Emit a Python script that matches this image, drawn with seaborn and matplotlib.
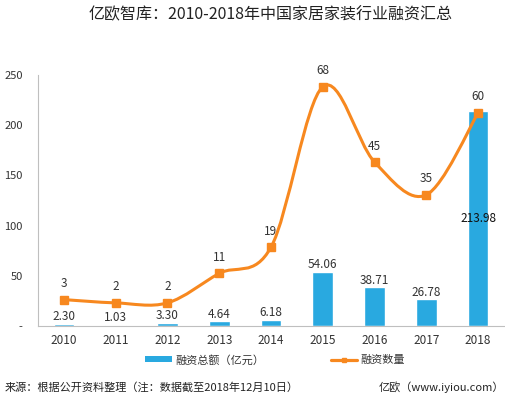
import numpy as np
import pandas as pd
import matplotlib
matplotlib.use("Agg")
import matplotlib.pyplot as plt
from matplotlib.path import Path
from matplotlib.patches import PathPatch, Patch
from matplotlib.lines import Line2D
import seaborn as sns

years = ["2010", "2011", "2012", "2013", "2014", "2015", "2016", "2017", "2018"]
amounts = [2.30, 1.03, 3.30, 4.64, 6.18, 54.06, 38.71, 26.78, 213.98]
amount_labels = ["2.30", "1.03", "3.30", "4.64", "6.18", "54.06", "38.71", "26.78", "213.98"]
counts = [3, 2, 2, 11, 19, 68, 45, 35, 60]
ytick_vals = [0, 50, 100, 150, 200, 250]
ytick_labels = ["-", "50", "100", "150", "200", "250"]

title = "亿欧智库：2010-2018年中国家居家装行业融资汇总"
bar_name = "融资总额（亿元）"
line_name = "融资数量"
source = "来源：根据公开资料整理（注：数据截至2018年12月10日）"
credit = "亿欧（www.iyiou.com）"

BLUE = "#29a9e0"
ORANGE = "#f7881f"
TXT = "#333333"

sns.set_theme(style="white")
plt.rcParams["font.family"] = ["Noto Sans CJK SC", "DejaVu Sans"]
plt.rcParams["axes.unicode_minus"] = False

fig = plt.figure(figsize=(5.06, 3.96), dpi=100)
ax = fig.add_axes([38 / 506, 1 - 326 / 396, (504 - 38) / 506, (326 - 75) / 396])

df = pd.DataFrame({"year": years, "amount": amounts})
sns.barplot(data=df, x="year", y="amount", color=BLUE, saturation=1, width=0.4, ax=ax)
ax.set_xlim(-0.5, len(years) - 0.5)
ax.set_ylim(0, 250)
ax.set_xlabel("")
ax.set_ylabel("")
ax.set_yticks(ytick_vals)
ax.set_yticklabels(ytick_labels)
ax.tick_params(axis="both", length=0, labelsize=8, colors=TXT)
ax.tick_params(axis="x", labelsize=8.5, pad=6)
ax.tick_params(axis="y", pad=11)
for s in ["top", "right"]:
    ax.spines[s].set_visible(False)
for s in ["left", "bottom"]:
    ax.spines[s].set_color("#bfbfbf")
    ax.spines[s].set_linewidth(0.8)

for i, (v, lab) in enumerate(zip(amounts, amount_labels)):
    if v > 150:
        ax.text(i, v / 2, lab, ha="center", va="center", fontsize=8.5, color="#111111")
    else:
        ax.text(i, v + 7, lab, ha="center", va="center", fontsize=8.5, color=TXT)

# secondary (hidden) axis for counts
ax2 = ax.twinx()
ax2.set_ylim(-5.06, 71.6)
ax2.set_axis_off()

xs = np.arange(len(counts), dtype=float)
ys = np.array(counts, dtype=float)
# Catmull-Rom style smooth path through the data points
verts = [(xs[0], ys[0])]
codes = [Path.MOVETO]
n = len(xs)
for i in range(n - 1):
    p0 = (xs[max(i - 1, 0)], ys[max(i - 1, 0)])
    p1 = (xs[i], ys[i])
    p2 = (xs[i + 1], ys[i + 1])
    p3 = (xs[min(i + 2, n - 1)], ys[min(i + 2, n - 1)])
    c1 = (p1[0] + (p2[0] - p0[0]) / 6, p1[1] + (p2[1] - p0[1]) / 6)
    c2 = (p2[0] - (p3[0] - p1[0]) / 6, p2[1] - (p3[1] - p1[1]) / 6)
    verts += [c1, c2, p2]
    codes += [Path.CURVE4] * 3
ax2.add_patch(PathPatch(Path(verts, codes), facecolor="none", edgecolor=ORANGE,
                        lw=2.2, capstyle="round", joinstyle="round", zorder=3))
ax2.plot(xs, ys, linestyle="none", marker="s", markersize=5.3, color=ORANGE, zorder=4)
for x, v in zip(xs, counts):
    ax2.text(x, v + 4.9, str(v), ha="center", va="center", fontsize=8.5, color=TXT, clip_on=False)

fig.text(271 / 506, 1 - 15 / 396, title, ha="center", va="center", fontsize=11.5, color="#222222")

handles = [Patch(facecolor=BLUE, edgecolor="none"),
           Line2D([0], [0], color=ORANGE, lw=2.3, marker="s", markersize=3.5)]
fig.legend(handles, [bar_name, line_name], loc="center", bbox_to_anchor=(275 / 506, 1 - 360 / 396),
           ncol=2, frameon=False, fontsize=8, handlelength=2.4, handleheight=0.45,
           handletextpad=0.3, columnspacing=6.0, labelcolor=TXT)

fig.text(5 / 506, 1 - 387 / 396, source, ha="left", va="center", fontsize=8, color="#222222")
fig.text(504 / 506, 1 - 387 / 396, credit, ha="right", va="center", fontsize=8, color="#222222")

fig.savefig("out.png", dpi=100)
